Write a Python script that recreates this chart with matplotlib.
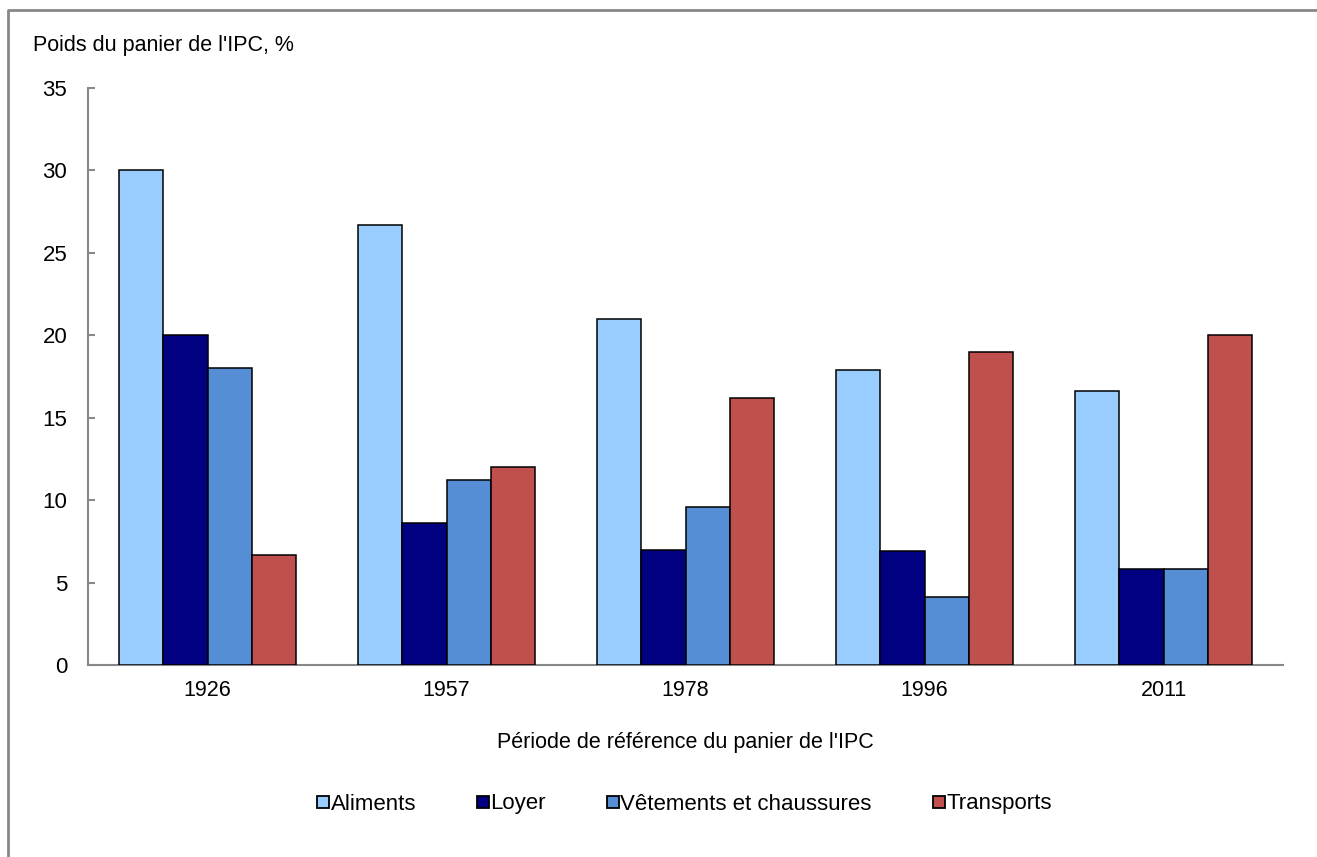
import matplotlib

matplotlib.use("Agg")
import matplotlib.pyplot as plt
import numpy as np
from matplotlib.lines import Line2D

plt.rcParams["font.family"] = ["Liberation Sans", "DejaVu Sans"]

periods = ["1926", "1957", "1978", "1996", "2011"]
series = ["Aliments", "Loyer", "Vêtements et chaussures", "Transports"]
aliments = [30.0, 26.7, 21.0, 17.9, 16.6]
loyer = [20.0, 8.6, 7.0, 6.9, 5.8]
vetements = [18.0, 11.2, 9.6, 4.1, 5.8]
transports = [6.7, 12.0, 16.2, 19.0, 20.0]
colors = ["#99CCFF", "#000080", "#558ED5", "#C0504D"]

W, H = 1317, 857
FS = 15.5
fig = plt.figure(figsize=(W / 100, H / 100), dpi=100)
ax = fig.add_axes([88 / W, 1 - 665 / H, (1283 - 88) / W, (665 - 88) / H])

x = np.arange(len(periods))
width = 0.185
for i, (vals, name, col) in enumerate(
    zip([aliments, loyer, vetements, transports], series, colors)
):
    ax.bar(
        x + (i - 1.5) * width,
        vals,
        width,
        color=col,
        edgecolor="black",
        linewidth=1.1,
        label=name,
        zorder=3,
    )

ax.set_xlim(-0.5, len(periods) - 0.5)
ax.set_ylim(0, 35)
ax.set_yticks(range(0, 36, 5))
ax.set_xticks(x)
ax.set_xticklabels(periods)

for side in ("top", "right"):
    ax.spines[side].set_visible(False)
for side in ("left", "bottom"):
    ax.spines[side].set_color("#888888")
    ax.spines[side].set_linewidth(1.5)
ax.tick_params(axis="y", direction="in", length=5, width=1.5, color="#888888",
               labelsize=16, pad=15)
ax.tick_params(axis="x", length=0, labelsize=15.5, pad=11)

ax.set_xlabel("Période de référence du panier de l'IPC", fontsize=FS, labelpad=22)
fig.text(33 / W, 1 - 45 / H, "Poids du panier de l'IPC, %", fontsize=FS,
         ha="left", va="center")

handles = [
    Line2D([], [], marker="s", linestyle="none", markersize=8,
           markerfacecolor=c, markeredgecolor="black", markeredgewidth=1.3)
    for c in colors
]
fig.legend(
    handles,
    series,
    loc="center",
    bbox_to_anchor=(685 / W, 1 - 804 / H),
    ncol=4,
    frameon=False,
    fontsize=16,
    handlelength=0.45,
    handletextpad=0.1,
    columnspacing=2.8,
)

# outer chart-area border (only top and left edges visible)
fig.add_artist(Line2D([8 / W, 8 / W, 1.01], [-0.01, 1 - 10 / H, 1 - 10 / H],
                      transform=fig.transFigure, color="#888888", linewidth=2))

fig.savefig("out.png", dpi=100)
